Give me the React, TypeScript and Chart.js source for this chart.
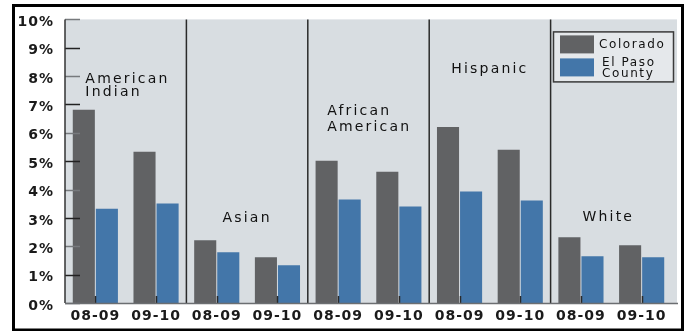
import React, { useEffect, useRef } from "react";
import { Chart, registerables } from "chart.js";

Chart.register(...registerables);

const categories = ["08-09", "09-10", "08-09", "09-10", "08-09", "09-10", "08-09", "09-10", "08-09", "09-10"];
const coloradoValues = [6.81, 5.33, 2.21, 1.61, 5.02, 4.63, 6.21, 5.4, 2.32, 2.04];
const elPasoValues = [3.32, 3.51, 1.79, 1.33, 3.65, 3.4, 3.93, 3.61, 1.65, 1.61];
const seriesLabels = ["Colorado", "El Paso County"];
const legendLines = [["Colorado"], ["El Paso", "County"]];
const groupNames = [["American", "Indian"], ["Asian"], ["African", "American"], ["Hispanic"], ["White"]];
const yMax = 10;

const COLORS = ["#616264", "#4376a9"];
const FONT = "'DejaVu Sans', sans-serif";
const TICK_SPACING = "1px";

// placement of group captions: y in data units per line
const groupLabelPlacement = [
  { align: "left", dx: -10, ys: [7.9, 7.42] },
  { align: "center", dx: 0, ys: [2.98] },
  { align: "left", dx: -11, ys: [6.77, 6.2] },
  { align: "center", dx: 0, ys: [8.25] },
  { align: "center", dx: -3, ys: [3.02] },
];

const decorPlugin = {
  id: "decor",
  beforeDraw(chart: any) {
    const { ctx, chartArea } = chart;
    const { left, right, top, bottom } = chartArea;
    ctx.save();
    ctx.fillStyle = "#ffffff";
    ctx.fillRect(0, 0, chart.width, chart.height);
    ctx.fillStyle = "#d8dde1";
    ctx.fillRect(left, top, right + 5 - left, bottom - top);
    ctx.lineWidth = 3;
    ctx.strokeStyle = "#000000";
    ctx.strokeRect(13.5, 5.5, 669, 324.5);
    ctx.restore();
    ctx.letterSpacing = TICK_SPACING;
  },
  afterDatasetsDraw(chart: any) {
    const { ctx, chartArea, scales } = chart;
    const { left, right, top, bottom } = chartArea;
    const x = scales.x;
    const y = scales.y;
    ctx.save();
    // y tick marks
    y.ticks.forEach((t: any, i: number) => {
      const py = Math.round(y.getPixelForValue(t.value)) + 0.5;
      ctx.strokeStyle = i % 2 === 0 ? "#777a7d" : "#222222";
      ctx.lineWidth = 1.5;
      ctx.beginPath();
      ctx.moveTo(left, py);
      ctx.lineTo(left + 15, py);
      ctx.stroke();
    });
    // dividers
    ctx.strokeStyle = "#2a2a2a";
    ctx.lineWidth = 1.5;
    for (let k = 1; k < groupNames.length; k++) {
      const px = (x.getPixelForValue(2 * k - 1) + x.getPixelForValue(2 * k)) / 2;
      ctx.beginPath();
      ctx.moveTo(px, top);
      ctx.lineTo(px, bottom);
      ctx.stroke();
    }
    // x tick marks
    categories.forEach((_, i) => {
      const px = Math.round(x.getPixelForValue(i)) + 0.5;
      ctx.beginPath();
      ctx.moveTo(px, bottom - 7);
      ctx.lineTo(px, bottom);
      ctx.stroke();
    });
    // axes
    ctx.strokeStyle = "#333333";
    ctx.lineWidth = 1.5;
    ctx.beginPath();
    ctx.moveTo(left, top);
    ctx.lineTo(left, bottom);
    ctx.stroke();
    ctx.strokeStyle = "#6b6e71";
    ctx.beginPath();
    ctx.moveTo(left, bottom + 0.5);
    ctx.lineTo(right + 6, bottom + 0.5);
    ctx.stroke();

    // group captions
    ctx.fillStyle = "#111111";
    ctx.font = `14px ${FONT}`;
    ctx.letterSpacing = "2.2px";
    ctx.textBaseline = "middle";
    groupNames.forEach((lines, g) => {
      const p = groupLabelPlacement[g];
      let px: number;
      if (p.align === "left") {
        px = x.getPixelForValue(2 * g) + p.dx;
        ctx.textAlign = "left";
      } else {
        px = (x.getPixelForValue(2 * g) + x.getPixelForValue(2 * g + 1)) / 2 + p.dx;
        ctx.textAlign = "center";
      }
      lines.forEach((line, li) => {
        ctx.fillText(line, px, y.getPixelForValue(p.ys[li]));
      });
    });

    // legend
    const lw = 120;
    const lh = 50;
    const lx = right + 1 - lw;
    const ly = top + 12;
    ctx.fillStyle = "#e5e8eb";
    ctx.fillRect(lx, ly, lw, lh);
    ctx.strokeStyle = "#3a3a3a";
    ctx.lineWidth = 1.5;
    ctx.strokeRect(lx + 0.5, ly + 0.5, lw, lh);
    ctx.font = `12px ${FONT}`;
    ctx.letterSpacing = "1.6px";
    ctx.textAlign = "left";
    ctx.textBaseline = "middle";
    chart.data.datasets.forEach((ds: any, i: number) => {
      const sy = ly + 4 + i * 23;
      ctx.fillStyle = ds.backgroundColor;
      ctx.fillRect(lx + 7, sy, 34, 18);
      ctx.fillStyle = "#111111";
      const lines = legendLines[i];
      if (lines.length === 1) {
        ctx.fillText(lines[0], lx + 46, sy + 9);
      } else {
        ctx.fillText(lines[0], lx + 49, sy + 4);
        ctx.fillText(lines[1], lx + 49, sy + 15);
      }
    });
    ctx.restore();
    ctx.letterSpacing = TICK_SPACING;
  },
};

export default function App() {
  const ref = useRef<HTMLCanvasElement>(null);
  useEffect(() => {
    if (!ref.current) return;
    const chart = new Chart(ref.current, {
      type: "bar",
      data: {
        labels: categories,
        datasets: [
          {
            label: seriesLabels[0],
            data: coloradoValues,
            backgroundColor: COLORS[0],
            categoryPercentage: 0.76,
            barPercentage: 0.957,
          },
          {
            label: seriesLabels[1],
            data: elPasoValues,
            backgroundColor: COLORS[1],
            categoryPercentage: 0.76,
            barPercentage: 0.957,
          },
        ],
      },
      options: {
        responsive: false,
        animation: false,
        layout: { padding: { top: 18, right: 24, left: 0, bottom: 0 } },
        plugins: {
          legend: { display: false },
          tooltip: { enabled: false },
        },
        scales: {
          x: {
            grid: { display: false, drawTicks: false },
            border: { display: false },
            ticks: {
              color: "#1a1a1a",
              font: { family: FONT, size: 14, weight: "bold" },
              padding: 5,
              maxRotation: 0,
              autoSkip: false,
            },
            afterFit: (s: any) => {
              s.height = 28;
            },
          },
          y: {
            min: 0,
            max: yMax,
            grid: { display: false, drawTicks: false },
            border: { display: false },
            ticks: {
              stepSize: 1,
              color: "#1a1a1a",
              font: { family: FONT, size: 14, weight: "bold" },
              padding: 11,
              labelOffset: 3,
              callback: (v: any) => `${v}%`,
            },
            afterFit: (s: any) => {
              s.width = 65;
            },
          },
        },
      },
      plugins: [decorPlugin],
    } as any);
    return () => chart.destroy();
  }, []);
  return (
    <div style={{ position: "fixed", left: 0, top: 0, width: 696, height: 331, background: "#fff" }}>
      <canvas ref={ref} width={696} height={331} style={{ display: "block", width: 696, height: 331 }} />
    </div>
  );
}
